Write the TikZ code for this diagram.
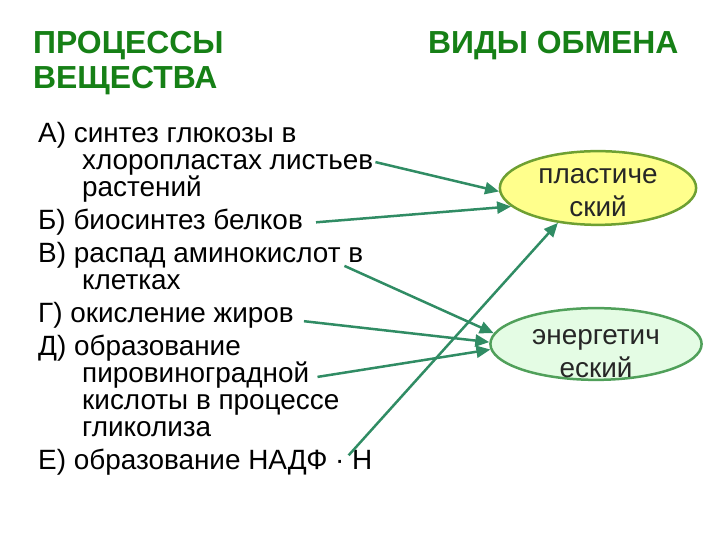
\documentclass[tikz,border=0pt]{standalone}
\usepackage{fontspec}
\setmainfont{Liberation Sans}
\usetikzlibrary{arrows.meta,positioning,calc,shapes.geometric}
\definecolor{headgreen}{RGB}{22,128,22}
\definecolor{arrowgreen}{RGB}{48,140,100}
\definecolor{plastfill}{RGB}{255,255,140}
\definecolor{plastdraw}{RGB}{110,160,50}
\definecolor{energfill}{RGB}{228,252,228}
\definecolor{energdraw}{RGB}{80,160,90}
\newcommand\itemfont{\fontsize{28}{27}\selectfont\lineskiplimit=-20pt\relax}

\begin{document}
\begin{tikzpicture}[
  x=1bp,y=1bp,
  head/.style={font=\fontsize{32}{35}\selectfont\bfseries,text=headgreen,align=left,inner sep=0pt,anchor=north west},
  item/.style={font=\itemfont,align=left,inner sep=2bp,anchor=north west},
  kind/.style={ellipse,line width=2.5bp,inner xsep=0pt,inner ysep=-12bp,align=center,text=black!85,font=\fontsize{28}{33}\selectfont},
  arr/.style={-{Triangle[length=14bp,width=12bp]},line width=2.5bp,draw=arrowgreen}
]
\useasboundingbox (0,0) rectangle (720,540);
% headings
\node[head] (procs) at (33,509) {ПРОЦЕССЫ\\ВЕЩЕСТВА};
\node[head] (kinds) at (428,509) {ВИДЫ ОБМЕНА};
% processes
\node[item] (procA) at (36,420) {А) синтез глюкозы в\\\hspace*{44bp}хлоропластах листьев\\\hspace*{44bp}растений};
\node[item] (procB) at (36,333) {Б) биосинтез белков};
\node[item] (procC) at (36,300) {В) распад аминокислот в\\\hspace*{44bp}клетках};
\node[item] (procD) at (36,240) {Г) окисление жиров};
\node[item] (procE) at (36,207) {Д) образование\\\hspace*{44bp}пировиноградной\\\hspace*{44bp}кислоты в процессе\\\hspace*{44bp}гликолиза};
\node[item] (procF) at (36,93) {Е) образование НАДФ · Н};
% kinds of metabolism
\node[kind,fill=plastfill,draw=plastdraw,minimum width=197,minimum height=74] (plast) at (598,352) {\rule{0pt}{25bp}пластиче\\ский};
\node[kind,fill=energfill,draw=energdraw,minimum width=212,minimum height=72] (energ) at (596,196) {\rule{0pt}{35bp}энергетич\\еский};
% connectors
\coordinate (pyruv) at ($(procE.east)+(-24,9)$);
\coordinate (nadph) at ($(procF.east)+(-26,7)$);
\draw[arr] (procA.east) -- (plast.182);
\draw[arr] ([xshift=11bp]procB.east) -- (plast.192);
\draw[arr] ([xshift=-21bp]procC.east) -- (energ.174);
\draw[arr] ([xshift=8bp,yshift=-6bp]procD.east) -- (energ.179);
\draw[arr] (pyruv) -- (energ.183);
\draw[arr] (nadph) -- (plast.221);
\end{tikzpicture}
\end{document}
